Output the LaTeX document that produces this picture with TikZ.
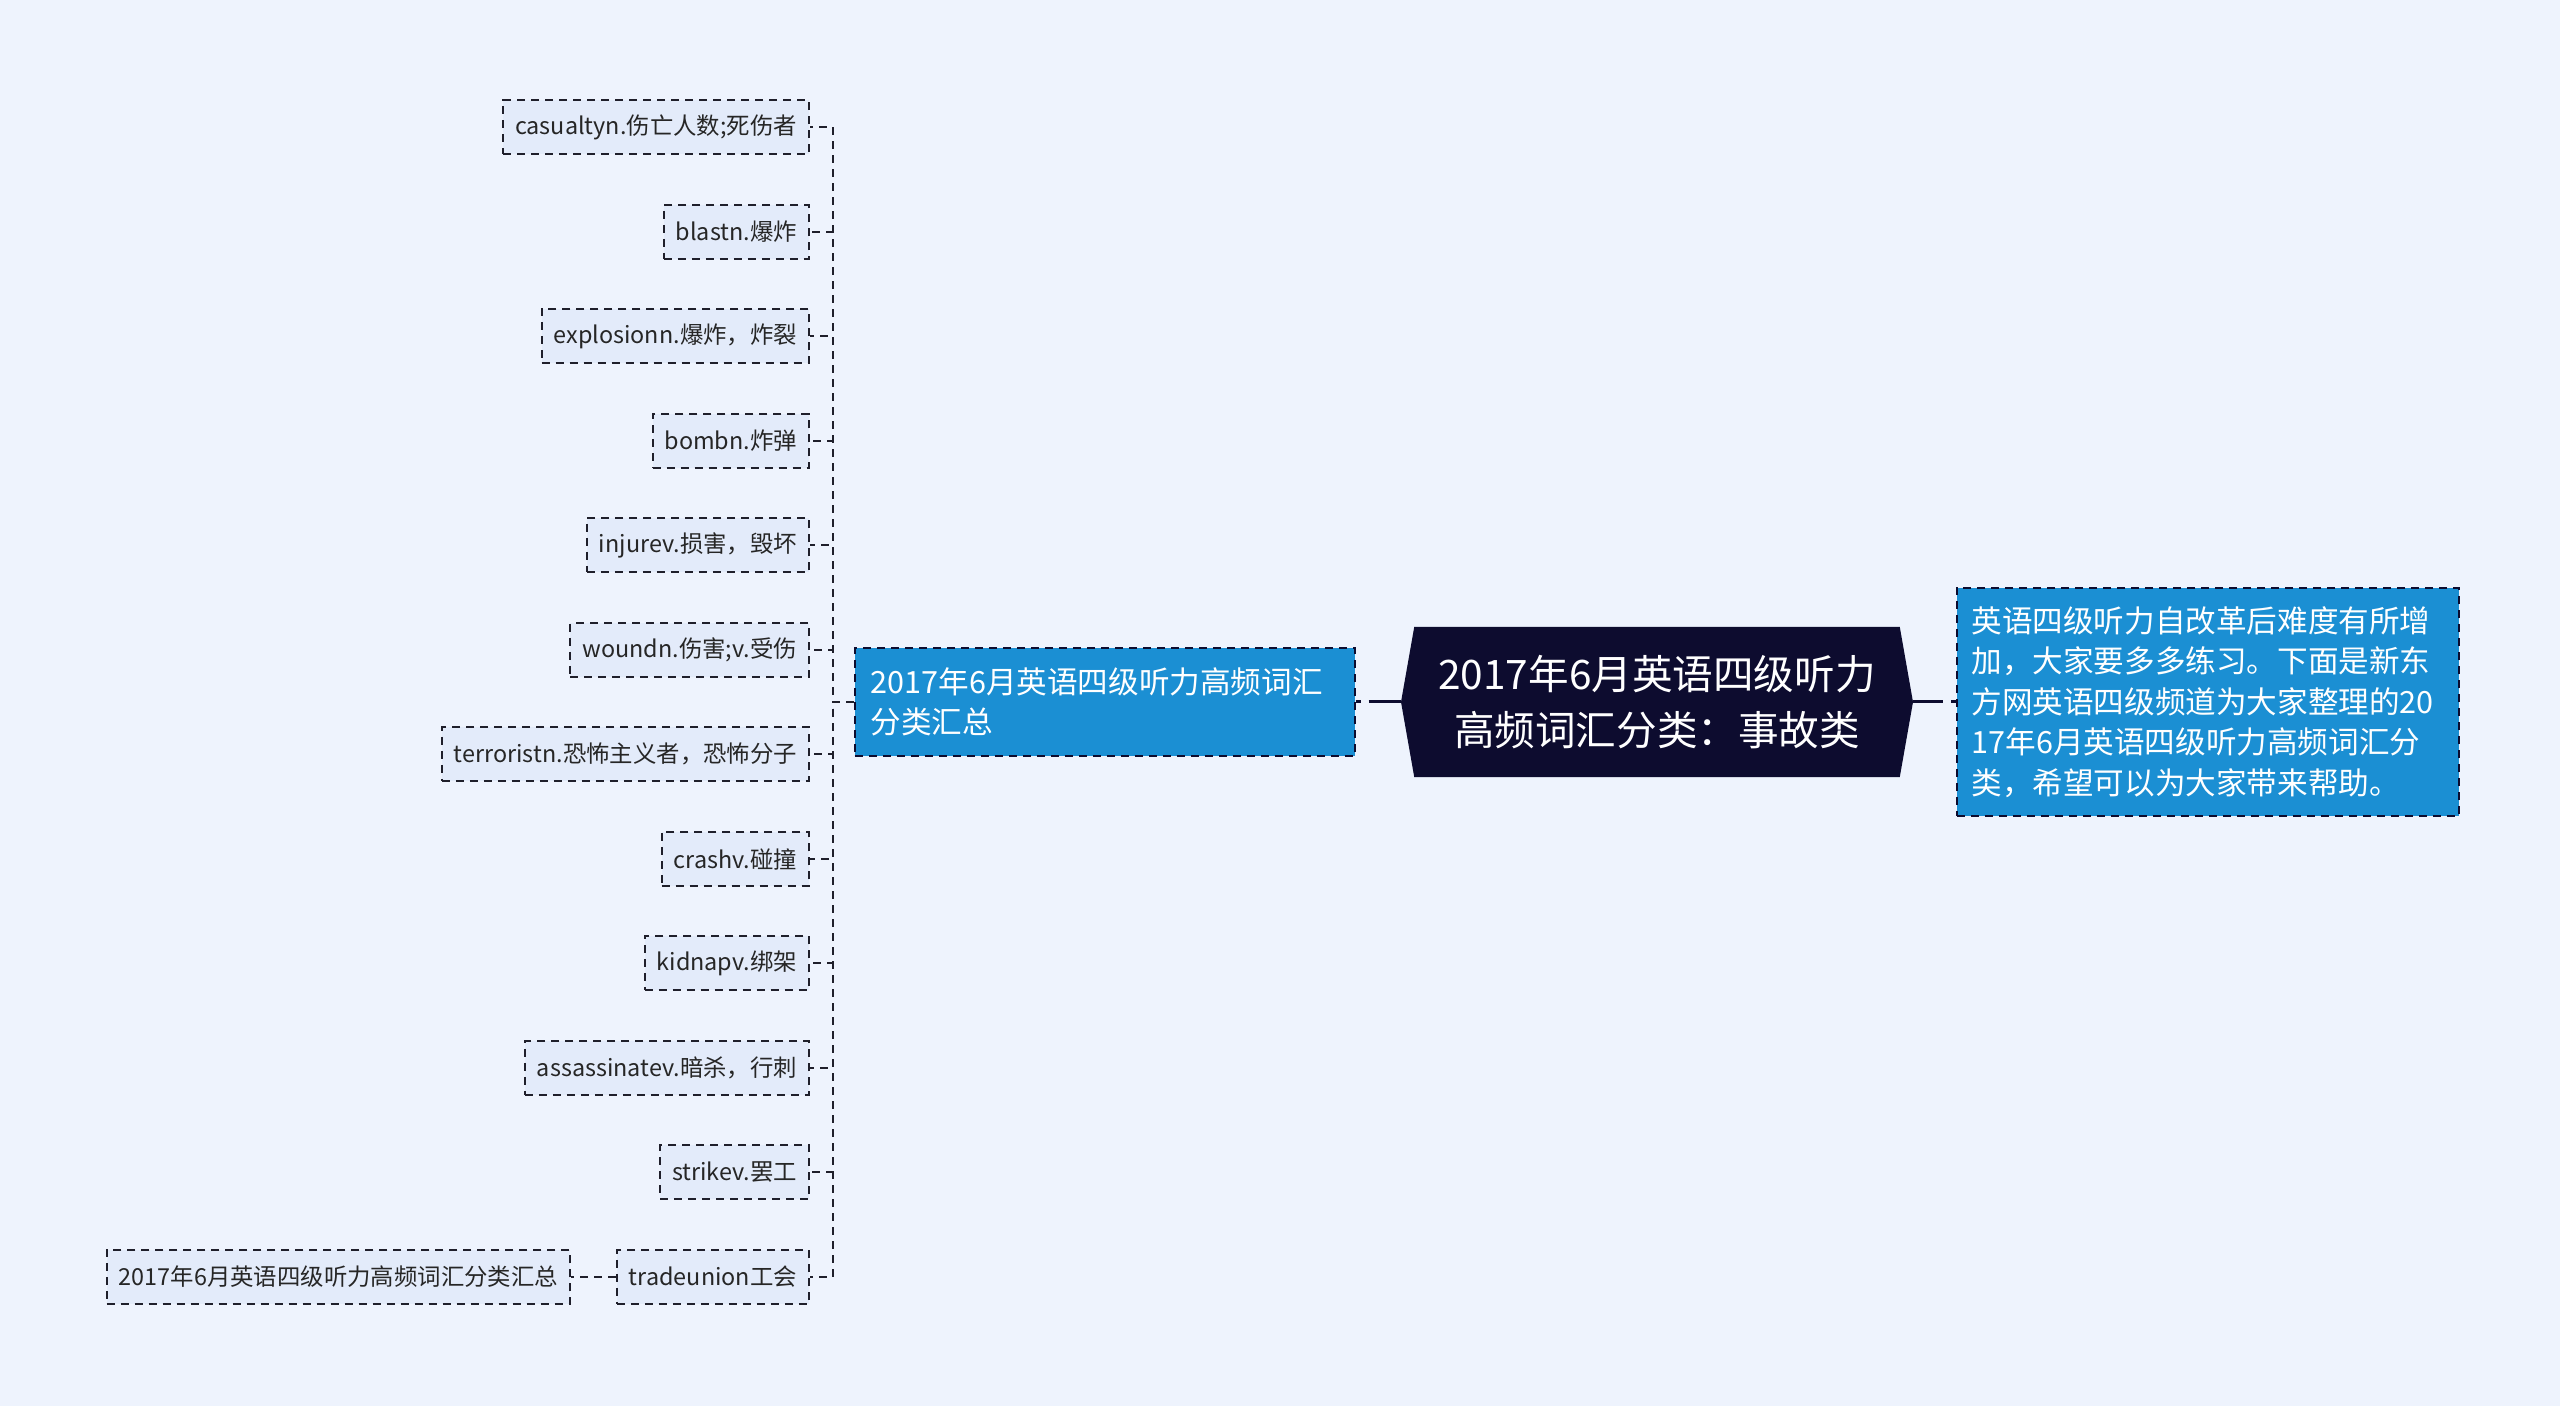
\documentclass[tikz,border=0pt]{standalone}
\usepackage{fontspec}
\setmainfont{Noto Sans CJK SC}
\usetikzlibrary{shapes.symbols}

\definecolor{bgA}{HTML}{EEF3FD}
\definecolor{leafA}{HTML}{E3EBFA}
\definecolor{topicA}{HTML}{1B8FD3}
\definecolor{rootA}{HTML}{0D0C2F}
\definecolor{lineA}{HTML}{1F1F2B}

\tikzset{
  leafbox/.style={draw=lineA, fill=leafA, line width=1pt, dash pattern=on 4pt off 3pt,
    inner xsep=6pt, minimum height=27pt, anchor=east, text=black!85,
    font=\fontsize{11.7}{14}\selectfont},
  topicbox/.style={draw=rootA, fill=topicA, line width=1pt, dash pattern=on 4pt off 3pt,
    text=white, align=left, font=\fontsize{15.3}{20.2}\selectfont},
  rootbox/.style={signal, signal to=east and west, signal pointer angle=160, fill=rootA,
    text=white, align=center, minimum width=256pt, minimum height=75pt,
    font=\fontsize{20.3}{27.8}\selectfont},
  link/.style={draw=lineA, line width=1pt, dash pattern=on 4pt off 3pt},
  mainlink/.style={draw=rootA, line width=1.5pt, dash pattern=on 2.5pt off 4pt on 30pt off 0pt},
}

\begin{document}
\begin{tikzpicture}[x=0.5pt,y=-0.5pt]
\fill[bgA] (0,0) rectangle (2560,1406);
\useasboundingbox (0,0) rectangle (2560,1406);

% centre and the two main branches
\node[rootbox] (root) at (1657,702) {2017年6月英语四级听力\\高频词汇分类：事故类};
\node[topicbox, text width=234pt, inner xsep=8pt, minimum height=54pt] (sum) at (1104.5,702)
  {2017年6月英语四级听力高频词汇\\分类汇总};
\node[topicbox, text width=236pt, inner xsep=7.5pt, inner ysep=9.5pt] (intro) at (2207.5,702)
  {英语四级听力自改革后难度有所增\\加，大家要多多练习。下面是新东\\方网英语四级频道为大家整理的20\\17年6月英语四级听力高频词汇分\\类，希望可以为大家带来帮助。};
\draw[mainlink] (sum.east) -- (root.west);
\draw[mainlink] (intro.west) -- (root.east);

% word list
\node[leafbox] (casualty) at (810,127) {casualtyn.伤亡人数;死伤者};
\node[leafbox] (blast) at (810,232) {blastn.爆炸};
\node[leafbox] (explosion) at (810,336) {explosionn.爆炸，炸裂};
\node[leafbox] (bomb) at (810,441) {bombn.炸弹};
\node[leafbox] (injure) at (810,545) {injurev.损害，毁坏};
\node[leafbox] (wound) at (810,650) {woundn.伤害;v.受伤};
\node[leafbox] (terrorist) at (810,754) {terroristn.恐怖主义者，恐怖分子};
\node[leafbox] (crash) at (810,859) {crashv.碰撞};
\node[leafbox] (kidnap) at (810,963) {kidnapv.绑架};
\node[leafbox] (assassinate) at (810,1068) {assassinatev.暗杀，行刺};
\node[leafbox] (strike) at (810,1172) {strikev.罢工};
\node[leafbox] (union) at (810,1277) {tradeunion工会};
\node[leafbox] (unionsum) at (571,1277) {2017年6月英语四级听力高频词汇分类汇总};

\draw[link] (sum.west) -- ++(-21,0) |- (casualty.east);
\draw[link] (sum.west) -- ++(-21,0) |- (blast.east);
\draw[link] (sum.west) -- ++(-21,0) |- (explosion.east);
\draw[link] (sum.west) -- ++(-21,0) |- (bomb.east);
\draw[link] (sum.west) -- ++(-21,0) |- (injure.east);
\draw[link] (sum.west) -- ++(-21,0) |- (wound.east);
\draw[link] (sum.west) -- ++(-21,0) |- (terrorist.east);
\draw[link] (sum.west) -- ++(-21,0) |- (crash.east);
\draw[link] (sum.west) -- ++(-21,0) |- (kidnap.east);
\draw[link] (sum.west) -- ++(-21,0) |- (assassinate.east);
\draw[link] (sum.west) -- ++(-21,0) |- (strike.east);
\draw[link] (sum.west) -- ++(-21,0) |- (union.east);
\draw[link] (union.west) -- (unionsum.east);
\end{tikzpicture}
\end{document}
